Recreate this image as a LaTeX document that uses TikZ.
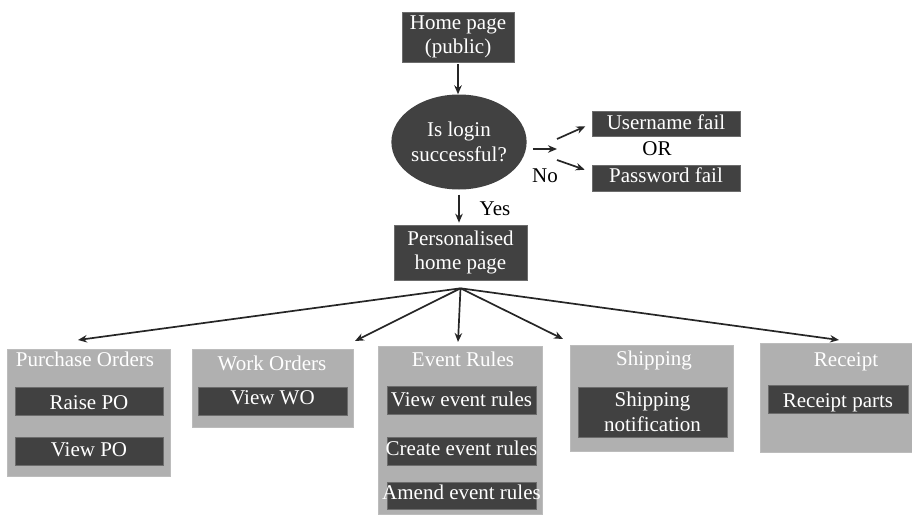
\documentclass[tikz,border=0pt]{standalone}
\usepackage{fontspec}
\setmainfont{Liberation Serif}
\usetikzlibrary{shapes.geometric,arrows.meta}
\definecolor{dk}{HTML}{414141}
\definecolor{lt}{HTML}{B0B0B0}
\begin{document}
\begin{tikzpicture}[x=1pt,y=-1pt,
  txt/.style={font=\fontsize{21}{24.5}\selectfont, align=center, inner sep=0pt},
  dbox/.style={txt, fill=dk, draw=gray!85!black, line width=0.6pt, text=white},
  bl/.code={\pgfmathsetmacro\myh{10+#1}\pgfmathsetmacro\myd{10-#1}%
    \edef\tmpbl{\noexpand\tikzset{text height=\myh pt, text depth=\myd pt}}\tmpbl},
  gbox/.style={fill=lt, draw=lt!85!white, line width=0.6pt, inner sep=0pt},
  gtitle/.style={txt, text=white, anchor=base},
  lbl/.style={txt, anchor=base},
  arr/.style={-{Stealth[length=9pt,width=7.5pt]}, line width=1.7pt, draw=black!85}]
\useasboundingbox (0,0) rectangle (912,514);

% top part
\node[dbox, minimum width=112pt, minimum height=50pt] (home) at (458,37) {Home page\\(public)};
\node[ellipse, txt, fill=dk, text=white, minimum width=115pt, minimum height=95pt] (login) at (459,142) {Is login\\successful?};
\node[dbox, bl=6, minimum width=148pt, minimum height=25pt] (user) at (666,123.5) {Username fail};
\node[dbox, bl=4.7, minimum width=148pt, minimum height=26pt] (pass) at (666,178) {Password fail};
\node[lbl] (or) at (657,155) {OR};
\node[lbl] (no) at (545,182.7) {No};
\node[lbl] (yes) at (495,215) {Yes};
\node[dbox, minimum width=133pt, minimum height=55pt] (pers) at (460.5,252.5) {Personalised\\home page};

\coordinate (split) at (557,149);
\coordinate (sa) at (557,139);
\coordinate (sb) at (557,160);

\draw[arr, shorten <=2pt] (home.south) -- (home.south |- login.north);
\draw[arr, shorten <=6pt] (login.east |- split) -- (split);
\draw[arr, shorten >=7pt] (sa) -- (user.west);
\draw[arr] (sb) -- ([xshift=-7pt,yshift=-5pt]pass.north west);
\draw[arr, shorten <=5pt, shorten >=2pt] (login.south) -- (login.south |- pers.north);

% groups
\node[gbox, minimum width=163pt, minimum height=127pt] (po) at (88.5,412.5) {};
\node[gtitle] (potitle) at (85,366.7) {Purchase Orders};
\node[dbox, bl=8, minimum width=148pt, minimum height=28pt] (raise) at (89,401) {Raise PO};
\node[dbox, bl=5.7, minimum width=148pt, minimum height=28pt] (viewpo) at (89,451) {View PO};

\node[gbox, minimum width=161pt, minimum height=78pt] (wo) at (272.5,388) {};
\node[gtitle] (wotitle) at (272,370.7) {Work Orders};
\node[dbox, bl=3, minimum width=149pt, minimum height=28pt] (viewwo) at (272.5,401) {View WO};

\node[gbox, minimum width=164pt, minimum height=168pt] (er) at (460,430) {};
\node[gtitle] (ertitle) at (463,366) {Event Rules};
\node[dbox, bl=6.7, minimum width=149pt, minimum height=28pt] (viewer) at (461.5,400) {\makebox[147pt]{View event rules}};
\node[dbox, bl=4, minimum width=149pt, minimum height=28pt] (createer) at (461.5,451) {\makebox[147pt]{Create event rules}};
\node[dbox, bl=3.8, minimum width=149pt, minimum height=27pt] (amender) at (461.5,495.5) {\makebox[147pt]{Amend event rules}};

\node[gbox, minimum width=163pt, minimum height=106pt] (sh) at (651.5,398) {};
\node[gtitle] (shtitle) at (654,365) {Shipping};
\node[dbox, minimum width=149pt, minimum height=50pt] (shnote) at (652.5,412) {Shipping\\notification};

\node[gbox, minimum width=152pt, minimum height=109pt] (rc) at (836,397.5) {};
\node[gtitle] (rctitle) at (846,366.7) {Receipt};
\node[dbox, bl=8.5, minimum width=140pt, minimum height=28pt] (rcparts) at (838,399) {Receipt parts};

% fan
\coordinate (fan) at ([yshift=-8pt]pers.south);
\coordinate (tpo) at (78,340);
\coordinate (two) at (355,341);
\coordinate (ter) at (458,342);
\coordinate (tsh) at (563,339);
\coordinate (trc) at (839,340);
\draw[arr] (fan) -- (tpo);
\draw[arr] (fan) -- (two);
\draw[arr] (fan) -- (ter);
\draw[arr] (fan) -- (tsh);
\draw[arr] (fan) -- (trc);
\end{tikzpicture}
\end{document}
